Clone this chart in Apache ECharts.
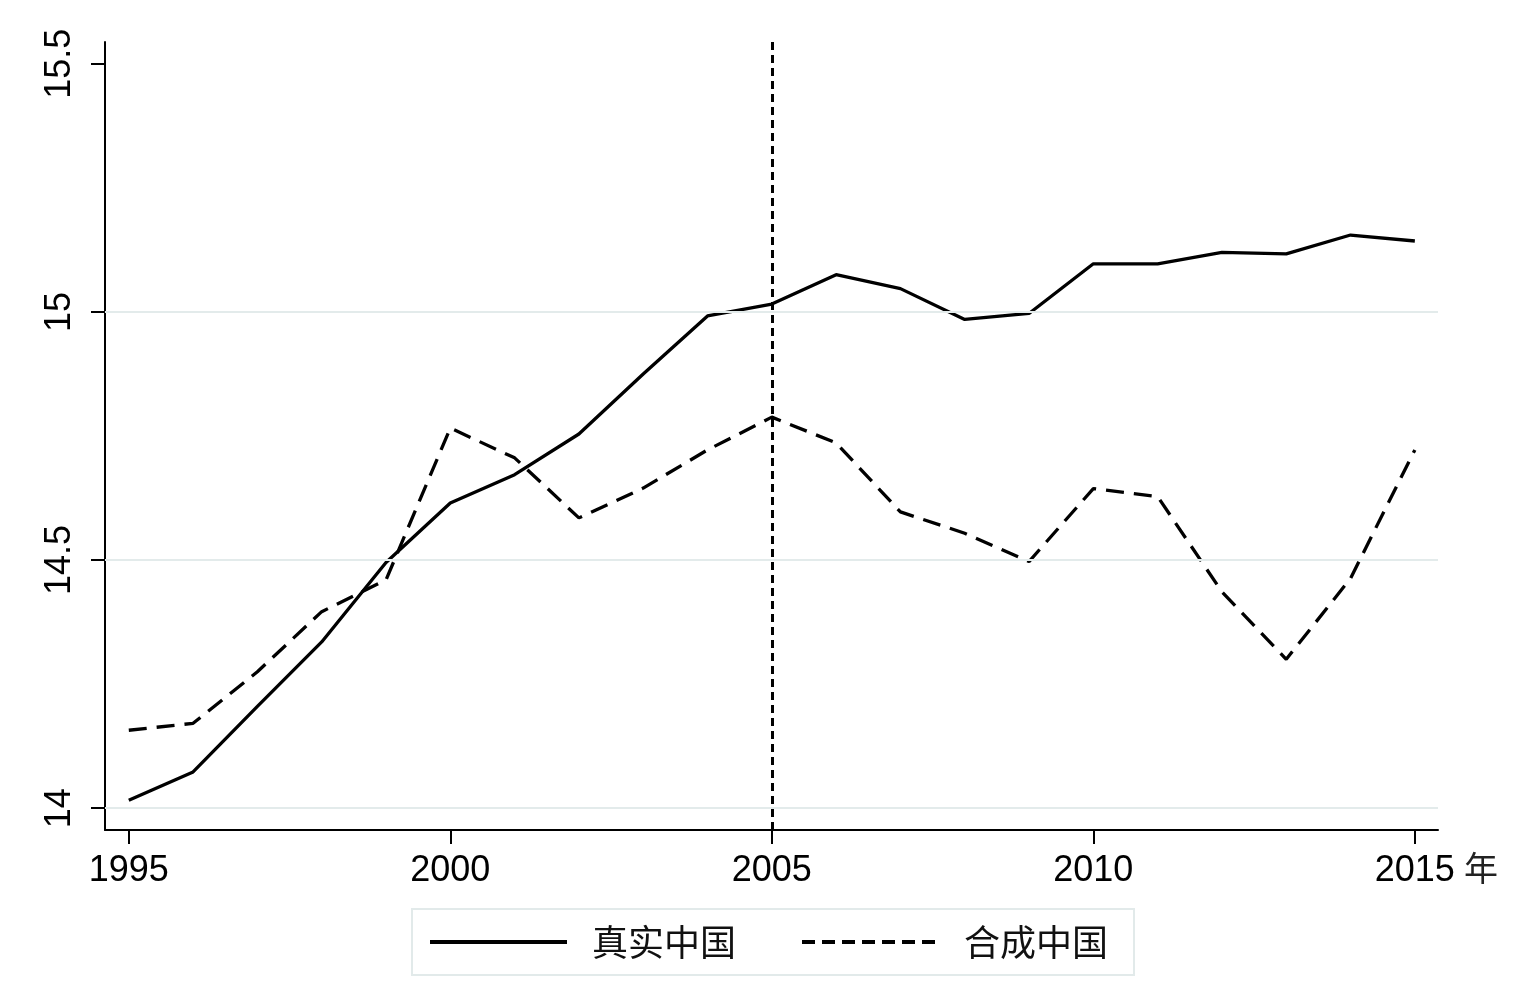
<!DOCTYPE html>
<html>
<head>
<meta charset="utf-8">
<script src="https://cdn.jsdelivr.net/npm/echarts@6/dist/echarts.min.js"></script>
<style>
html,body{margin:0;padding:0;background:#fff;}
#chart{width:1518px;height:994px;}
</style>
</head>
<body>
<div id="chart"></div>
<script>
const years = [1995,1996,1997,1998,1999,2000,2001,2002,2003,2004,2005,2006,2007,2008,2009,2010,2011,2012,2013,2014,2015];
const realChina = [14.016,14.073,14.205,14.335,14.495,14.615,14.672,14.754,14.875,14.992,15.016,15.075,15.047,14.985,14.997,15.097,15.097,15.120,15.117,15.155,15.143];
const synthChina = [14.157,14.171,14.275,14.396,14.460,14.766,14.706,14.585,14.645,14.722,14.788,14.736,14.597,14.554,14.497,14.644,14.628,14.436,14.300,14.463,14.722];
const xTicks = [1995,2000,2005,2010,2015];
const yTicks = [14,14.5,15,15.5];
const gridValues = [14,14.5,15];
const treatYear = 2005;
const seriesNames = ['真实中国','合成中国'];

const chart = echarts.init(document.getElementById('chart'));
const font = 'Liberation Sans, Arial, sans-serif';
const cjk = 'Noto Sans CJK SC';
chart.setOption({
  backgroundColor: '#ffffff',
  animation: false,
  grid: {left: 105, right: 80, top: 42, bottom: 164},
  xAxis: {
    type: 'value', min: 1994.63, max: 2015.36,
    name: '\n年', nameLocation: 'end', nameGap: 26,
    nameTextStyle: {fontFamily: cjk, fontSize: 34, color: '#222', lineHeight: 76, verticalAlign: 'middle'},
    axisLine: {show: true, onZero: false, lineStyle: {color: '#000', width: 2}},
    axisTick: {show: true, length: 14, customValues: xTicks, lineStyle: {color: '#000', width: 2}},
    axisLabel: {customValues: xTicks, fontFamily: font, fontSize: 36, color: '#000', margin: 23,
      formatter: v => String(v)},
    splitLine: {show: false}
  },
  yAxis: {
    type: 'value', min: 13.956, max: 15.544,
    axisLine: {show: true, onZero: false, lineStyle: {color: '#000', width: 2}},
    axisTick: {show: true, length: 14, customValues: yTicks, lineStyle: {color: '#000', width: 2}},
    axisLabel: {customValues: yTicks, fontFamily: font, fontSize: 36, color: '#000', rotate: 90, margin: 27,
      formatter: v => String(v)},
    splitLine: {show: false}
  },
  legend: {
    left: 412, top: 909,
    padding: [15, 26, 15, 16],
    itemWidth: 137, itemHeight: 20, itemGap: 64,
    borderColor: '#e2eaea', borderWidth: 2, backgroundColor: '#fff',
    itemStyle: {opacity: 0},
    textStyle: {fontFamily: cjk, fontSize: 36, color: '#111', padding: [0,0,0,20]},
    data: [
      {name: seriesNames[0], itemStyle: {opacity: 0}, lineStyle: {width: 4, type: 'solid', color: '#000', opacity: 1}},
      {name: seriesNames[1], itemStyle: {opacity: 0}, lineStyle: {width: 4, type: [13, 7], color: '#000', opacity: 1}}
    ]
  },
  series: [
    {
      name: 'grid', type: 'line', data: [], z: 1, silent: true,
      markLine: {
        silent: true, symbol: 'none', label: {show: false},
        lineStyle: {color: '#e3ebeb', width: 2, type: 'solid'},
        data: gridValues.map(v => ({yAxis: v}))
      }
    },
    {
      name: seriesNames[0], type: 'line', z: 3,
      data: years.map((y, i) => [y, realChina[i]]),
      symbol: 'none', lineStyle: {color: '#000', width: 3.3, type: 'solid'}, itemStyle: {color: '#000'},
      markLine: {
        silent: true, symbol: 'none', label: {show: false},
        lineStyle: {color: '#000', width: 3, type: [8, 5]},
        data: [{xAxis: treatYear}]
      }
    },
    {
      name: seriesNames[1], type: 'line', z: 3,
      data: years.map((y, i) => [y, synthChina[i]]),
      symbol: 'none', lineStyle: {color: '#000', width: 3.3, type: [18, 10]}, itemStyle: {color: '#000'}
    }
  ]
});
</script>
</body>
</html>
